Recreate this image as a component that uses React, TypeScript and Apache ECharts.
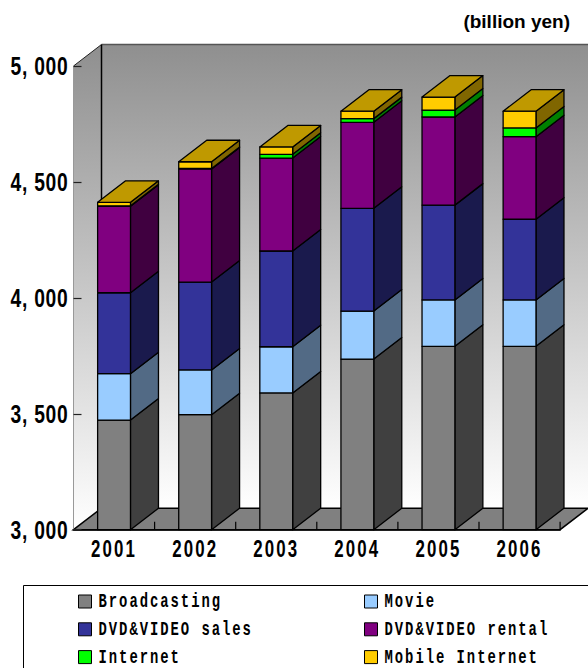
import React, { useEffect, useRef } from "react";
import * as echarts from "echarts";

const years = ["2001", "2002", "2003", "2004", "2005", "2006"];
const broadcasting = [3473, 3496, 3590, 3736, 3791, 3791];
const movie = [200, 193, 199, 207, 200, 200];
const dvdSales = [349, 379, 413, 443, 409, 348];
const dvdRental = [373, 488, 401, 371, 380, 356];
const internet = [2, 2, 16, 16, 30, 38];
const mobileInternet = [15, 29, 32, 32, 56, 72];

const seriesNames = ["Broadcasting", "Movie", "DVD&VIDEO sales", "DVD&VIDEO rental", "Internet", "Mobile Internet"];
const seriesValues = [broadcasting, movie, dvdSales, dvdRental, internet, mobileInternet];
const frontColors = ["#808080", "#99CCFF", "#333399", "#800080", "#00FF00", "#FFCC00"];
const sideColors = ["#404040", "#526A85", "#1A1A4D", "#400040", "#008000", "#806600"];
const topColor = "#BF9900";

const DEPTH_X = 28;
const DEPTH_Y = -21.5;
const FLOOR_TICK = 8;
const SANS = '"Liberation Sans", Arial, sans-serif';
const MONO = '"Liberation Mono", monospace';

// Width every label is set to; the narrow, tall lettering comes from squeezing the text run.
const LEGEND_CHAR_WIDTH = 10.3;
const YEAR_LABEL_WIDTH = 46;
const VALUE_LABEL_WIDTH = 58;

const formatValue = (v: number) => String(v).replace(/(\d)(\d{3})$/, "$1, $2");

function buildOption() {
  // Each segment runs from the running total of the layers under it to the new total.
  const running = years.map(() => 0);
  const stacked = seriesValues.map((values) =>
    values.map((v, i) => {
      const start = running[i];
      running[i] += v;
      return [i, start, running[i]];
    })
  );

  const barSeries = seriesNames.map((name, s) => ({
    type: "custom",
    name,
    z: 5,
    itemStyle: { color: frontColors[s], borderColor: "#000", borderWidth: 1 },
    encode: { x: 0, y: [1, 2] },
    data: stacked[s],
    renderItem: (_p: any, api: any) => {
      const idx = api.value(0);
      const bottom = api.coord([idx, Math.max(api.value(1), 3000)]);
      const top = api.coord([idx, api.value(2)]);
      const w = api.size([1, 0])[0] * 0.405;
      const x0 = bottom[0] - w / 2;
      const x1 = x0 + w;
      const line = { stroke: "#000", lineWidth: 1.3, lineJoin: "round" };
      const children: any[] = [
        {
          type: "polygon",
          shape: { points: [[x1, top[1]], [x1 + DEPTH_X, top[1] + DEPTH_Y], [x1 + DEPTH_X, bottom[1] + DEPTH_Y], [x1, bottom[1]]] },
          style: { fill: sideColors[s], ...line },
        },
        {
          type: "polygon",
          shape: { points: [[x0, top[1]], [x1, top[1]], [x1, bottom[1]], [x0, bottom[1]]] },
          style: { fill: frontColors[s], ...line },
        },
      ];
      if (s === seriesNames.length - 1) {
        children.push({
          type: "polygon",
          shape: { points: [[x0, top[1]], [x0 + DEPTH_X, top[1] + DEPTH_Y], [x1 + DEPTH_X, top[1] + DEPTH_Y], [x1, top[1]]] },
          style: { fill: topColor, ...line },
        });
      }
      return { type: "group", children };
    },
  }));

  // The box behind the bars: back wall, left wall and floor, taken from the grid rectangle.
  const wallSeries = {
    type: "custom",
    name: "walls",
    silent: true,
    z: 1,
    data: [[0]],
    renderItem: (p: any) => {
      const { x, y, width, height } = p.coordSys;
      const l = x;
      const r = x + width;
      const t = y;
      const b = y + height;
      const wall = new echarts.graphic.LinearGradient(0, 0, 0, 1, [
        { offset: 0, color: "#8F8F8F" },
        { offset: 1, color: "#FFFFFF" },
      ]);
      // Short marks on the front edge of the floor, one at each category boundary.
      const floorTicks = years.map((_, i) => {
        const tx = l + ((i + 1) * width) / years.length;
        return { type: "line", shape: { x1: tx, y1: b - FLOOR_TICK, x2: tx, y2: b }, style: { stroke: "#000", lineWidth: 1.2 } };
      });
      return {
        type: "group",
        children: [
          {
            type: "polygon",
            shape: { points: [[l + DEPTH_X, t + DEPTH_Y], [r + DEPTH_X, t + DEPTH_Y], [r + DEPTH_X, b + DEPTH_Y], [l + DEPTH_X, b + DEPTH_Y]] },
            style: { fill: wall },
          },
          {
            type: "polygon",
            shape: { points: [[l, t], [l + DEPTH_X, t + DEPTH_Y], [l + DEPTH_X, b + DEPTH_Y], [l, b]] },
            style: { fill: wall },
          },
          {
            type: "polygon",
            shape: { points: [[l, b], [l + DEPTH_X, b + DEPTH_Y], [r + DEPTH_X, b + DEPTH_Y], [r, b]] },
            style: { fill: "#808080", stroke: "#000", lineWidth: 1.5 },
          },
          { type: "line", shape: { x1: l + DEPTH_X, y1: t + DEPTH_Y, x2: r + DEPTH_X, y2: t + DEPTH_Y }, style: { stroke: "#555", lineWidth: 1.5 } },
          { type: "line", shape: { x1: l + DEPTH_X, y1: t + DEPTH_Y, x2: l + DEPTH_X, y2: b + DEPTH_Y }, style: { stroke: "#000", lineWidth: 1.5 } },
          { type: "line", shape: { x1: l, y1: t, x2: l + DEPTH_X, y2: t + DEPTH_Y }, style: { stroke: "#222", lineWidth: 1 } },
          { type: "line", shape: { x1: l, y1: t, x2: l, y2: b }, style: { stroke: "#999", lineWidth: 1 } },
          ...floorTicks,
        ],
      };
    },
  };

  const legendBase = {
    orient: "vertical",
    selectedMode: false,
    icon: "rect",
    itemWidth: 13,
    itemHeight: 13,
    itemGap: 6.8,
    height: 120,
    itemStyle: { borderColor: "#000", borderWidth: 1 },
    textStyle: { fontFamily: MONO, fontWeight: "bold", fontSize: 21, color: "#000", padding: [0, 0, 0, 2] },
    top: 591,
    padding: 0,
  };

  return {
    animation: false,
    backgroundColor: "#fff",
    grid: { left: 73.5, top: 66, width: 486.6, height: 463.7, outerBoundsMode: "none" },
    xAxis: {
      type: "category",
      data: years,
      z: 6,
      axisLine: { lineStyle: { color: "#000", width: 1.5 } },
      axisTick: { show: false },
      axisLabel: { fontFamily: SANS, fontWeight: "bold", fontSize: 24, color: "#000", margin: 7 },
    },
    yAxis: {
      type: "value",
      min: 3000,
      max: 5000,
      interval: 500,
      z: 6,
      splitLine: { show: false },
      axisLine: { show: false },
      axisTick: { show: true, inside: true, length: 8, lineStyle: { color: "#222", width: 1.2 } },
      axisLabel: {
        fontFamily: SANS,
        fontWeight: "bold",
        fontSize: 26,
        color: "#000",
        margin: 5,
        padding: [6, 0, 0, 0],
        formatter: formatValue,
      },
    },
    legend: [
      { ...legendBase, left: 78, data: [seriesNames[0], seriesNames[2], seriesNames[4]] },
      { ...legendBase, left: 364, data: [seriesNames[1], seriesNames[3], seriesNames[5]] },
    ],
    graphic: [
      { type: "rect", shape: { x: 23.5, y: 585.5, width: 620, height: 120 }, style: { fill: "none", stroke: "#000", lineWidth: 1 }, z: 0, silent: true },
      { type: "text", right: 18, top: 12, style: { text: "(billion yen)", fontFamily: SANS, fontWeight: "bold", fontSize: 19, fill: "#000" } },
    ],
    series: [wallSeries, ...barSeries],
  };
}

// Sets a label to a fixed overall width: extra letter gaps first, then a horizontal scale to fit.
function squeeze(t: SVGTextElement, width: number, gap: number) {
  t.style.letterSpacing = `${gap}px`;
  const scale = width / t.getComputedTextLength();
  const x = t.getAttribute("x") || "0";
  const base = t.getAttribute("transform") || "";
  t.setAttribute("x", "0");
  t.setAttribute("transform", `${base} translate(${x},0) scale(${scale},1)`);
}

export default function App() {
  const ref = useRef<HTMLDivElement>(null);
  useEffect(() => {
    document.body.style.margin = "0";
    const chart = echarts.init(ref.current!, null, { renderer: "svg" });
    chart.setOption(buildOption() as any);
    ref.current!.querySelectorAll("text").forEach((t) => {
      const label = t.textContent || "";
      if (seriesNames.includes(label)) squeeze(t, label.length * LEGEND_CHAR_WIDTH, 3);
      else if (years.includes(label)) squeeze(t, YEAR_LABEL_WIDTH, 3);
      else if (/^\d, \d{3}$/.test(label)) squeeze(t, VALUE_LABEL_WIDTH, 1);
    });
    return () => chart.dispose();
  }, []);
  return <div ref={ref} style={{ position: "absolute", left: 0, top: 0, width: 588, height: 668, overflow: "hidden" }} />;
}
